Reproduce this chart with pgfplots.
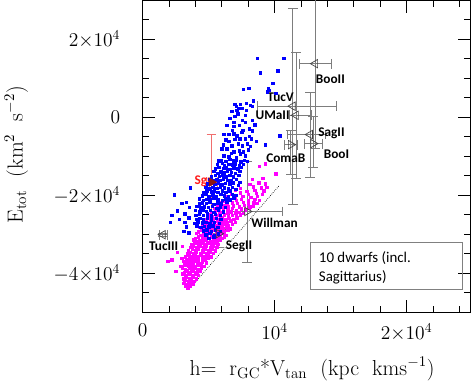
\documentclass[border=0pt]{standalone}
\usepackage{fontspec}
\usepackage{pgfplots}
\pgfplotsset{compat=1.18}
\newfontfamily\carlito{Carlito}
\definecolor{ptblue}{RGB}{0,0,255}
\definecolor{ptmag}{RGB}{255,0,255}
\definecolor{errgray}{RGB}{125,125,125}
\definecolor{sgrbar}{RGB}{240,110,110}
\definecolor{sgrmark}{RGB}{140,20,20}
\begin{document}
\begin{tikzpicture}
\begin{axis}[
  width=242pt, height=230pt, scale only axis,
  xmin=0, xmax=24.85, ymin=-50, ymax=30,
  xtick={0,10,20}, xticklabels={$0$,$10^4$,$2{\times}10^4$},
  ytick={-40,-20,0,20},
  yticklabels={$-4{\times}10^4$,$-2{\times}10^4$,$0$,$2{\times}10^4$},
  minor xtick={2,4,6,8,12,14,16,18,22,24},
  minor ytick={-45,-35,-30,-25,-15,-10,-5,5,10,15,25},
  tick align=inside, major tick length=9pt, minor tick length=4.5pt,
  every tick/.style={black, line width=0.6pt},
  axis line style={line width=0.6pt},
  tick label style={font=\fontsize{14.5}{16}\selectfont},
  xticklabel style={yshift=-5pt},
  yticklabel style={xshift=-13pt},
  label style={font=\fontsize{16}{18}\selectfont},
  xlabel={h=\ \ r$_{\mathrm{GC}}$*V$_{\mathrm{tan}}$\ \ (kpc\ \ kms$^{-1}$)},
  ylabel={E$_{\mathrm{tot}}$\ \ (km$^2$\ \ s$^{-2}$)},
  xlabel style={at={(axis description cs:0.517,-0.182)}, anchor=center},
  ylabel style={at={(axis description cs:-0.385,0.505)}, anchor=center},
]

% model particles, bound energy branch (magenta)
\addplot[only marks, mark=square*, mark size=0.9pt, color=ptmag] coordinates {
(3.22,-43.4) (3.41,-43.7) (3.57,-43.3)
(3.13,-42.6) (3.36,-43.0) (3.62,-42.7) (3.79,-42.9)
(3.21,-41.8) (3.47,-42.2) (3.68,-41.9) (3.93,-42.1)
(3.08,-41.4) (3.33,-41.0) (3.55,-41.3) (3.82,-41.1) (4.06,-41.4)
(3.04,-40.2) (3.27,-40.6) (3.49,-40.3) (3.77,-40.5) (4.01,-40.2) (4.22,-40.6)
(2.52,-39.5) (3.16,-39.8) (3.38,-39.4) (3.62,-39.7) (3.86,-39.5) (4.11,-39.8) (4.37,-39.4)
(3.01,-38.6) (3.24,-39.0) (3.52,-38.7) (3.71,-38.9) (3.96,-38.6) (4.19,-39.0) (4.46,-38.7)
(2.88,-38.2) (3.19,-37.8) (3.46,-38.1) (3.66,-37.9) (3.92,-38.2) (4.14,-37.8) (4.41,-38.0) (4.66,-38.2)
(3.09,-37.0) (3.36,-37.4) (3.58,-37.1) (3.81,-37.3) (4.04,-37.0) (4.31,-37.4) (4.54,-37.1) (4.81,-37.3)
(2.21,-36.5) (2.98,-36.2) (3.31,-36.6) (3.54,-36.3) (3.76,-36.5) (4.02,-36.2) (4.24,-36.6) (4.51,-36.3) (4.76,-36.5) (4.99,-36.2)
(3.24,-35.8) (3.51,-35.4) (3.69,-35.7) (3.96,-35.5) (4.19,-35.8) (4.46,-35.4) (4.71,-35.7) (4.94,-35.5) (5.16,-35.8)
(2.62,-34.7) (3.39,-35.0) (3.61,-34.6) (3.86,-34.9) (4.09,-34.6) (4.36,-35.0) (4.59,-34.7) (4.86,-34.9) (5.09,-34.6) (5.34,-34.9)
(3.48,-34.2) (3.76,-33.8) (4.01,-34.1) (4.24,-33.9) (4.51,-34.2) (4.74,-33.8) (5.01,-34.1) (5.24,-33.9) (5.51,-34.2)
(3.02,-33.1) (3.61,-33.4) (3.84,-33.0) (4.11,-33.3) (4.34,-33.0) (4.61,-33.4) (4.84,-33.1) (5.11,-33.3) (5.34,-33.0) (5.61,-33.3)
(3.71,-32.6) (3.94,-32.2) (4.21,-32.5) (4.44,-32.3) (4.71,-32.6) (4.94,-32.2) (5.21,-32.5) (5.44,-32.3) (5.71,-32.6)
(3.84,-31.4) (4.11,-31.8) (4.34,-31.5) (4.61,-31.7) (4.84,-31.4) (5.11,-31.8) (5.34,-31.5) (5.61,-31.7) (5.86,-31.4)
(4.01,-31.0) (4.24,-30.6) (4.51,-30.9) (4.74,-30.7) (5.01,-31.0) (5.24,-30.6) (5.51,-30.9) (5.74,-30.7) (6.01,-31.0) (6.21,-30.6)
(4.09,-29.8) (4.36,-30.2) (4.59,-29.9) (4.86,-30.1) (5.09,-29.8) (5.36,-30.2) (5.59,-29.9) (5.86,-30.1) (6.09,-29.8) (6.36,-30.2)
(4.21,-29.4) (4.44,-29.0) (4.71,-29.3) (4.94,-29.1) (5.21,-29.4) (5.44,-29.0) (5.71,-29.3) (5.94,-29.1) (6.21,-29.4) (6.46,-29.0)
(4.34,-28.2) (4.61,-28.6) (4.84,-28.3) (5.11,-28.5) (5.34,-28.2) (5.61,-28.6) (5.84,-28.3) (6.11,-28.5) (6.34,-28.2) (6.61,-28.6)
(4.51,-27.8) (4.74,-27.4) (5.01,-27.7) (5.24,-27.5) (5.51,-27.8) (5.74,-27.4) (6.01,-27.7) (6.24,-27.5) (6.51,-27.8) (6.79,-27.4)
(4.64,-26.6) (4.91,-27.0) (5.14,-26.7) (5.41,-26.9) (5.64,-26.6) (5.91,-27.0) (6.14,-26.7) (6.41,-26.9) (6.69,-26.6) (7.01,-27.0)
(4.81,-26.2) (5.04,-25.8) (5.31,-26.1) (5.54,-25.9) (5.81,-26.2) (6.04,-25.8) (6.31,-26.1) (6.59,-25.9) (6.91,-26.2) (7.19,-25.8)
(5.01,-25.0) (5.29,-25.4) (5.61,-25.1) (5.89,-25.3) (6.21,-25.0) (6.49,-25.4) (6.81,-25.1) (7.09,-25.3) (7.41,-25.0)
(5.21,-24.6) (5.49,-24.2) (5.81,-24.5) (6.09,-24.3) (6.41,-24.6) (6.69,-24.2) (7.01,-24.5) (7.29,-24.3) (7.64,-24.6)
(5.46,-23.4) (5.79,-23.8) (6.11,-23.5) (6.44,-23.7) (6.81,-23.4) (7.09,-23.8) (7.46,-23.5) (7.79,-23.7) (8.09,-23.4)
(5.71,-23.0) (6.09,-22.6) (6.51,-22.9) (6.89,-22.7) (7.31,-23.0) (7.69,-22.6) (8.11,-22.9) (8.39,-22.7)
(5.91,-21.8) (6.39,-22.2) (6.81,-21.9) (7.19,-22.1) (7.61,-21.8) (7.99,-22.2) (8.41,-21.9) (8.69,-22.1)
(6.09,-21.4) (6.61,-21.0) (7.11,-21.3) (7.49,-21.1) (8.01,-21.4) (8.49,-21.0) (8.86,-21.3)
(6.41,-20.2) (7.01,-20.6) (7.59,-20.3) (8.21,-20.5) (8.69,-20.2)
(6.71,-19.8) (7.41,-19.4) (7.99,-19.7) (8.61,-19.5) (9.09,-19.8)
(7.01,-18.6) (7.89,-19.0) (8.51,-18.7) (9.19,-18.9)
(7.41,-18.2) (8.39,-17.8) (8.99,-18.1) (9.41,-17.9)
(8.11,-17.2) (8.79,-16.8) (9.31,-17.1)
(8.31,-15.9) (9.11,-15.6)
(9.31,-11.9) (10.08,-14.5) (8.86,-12.6) (1.92,-36.9)
};

% model particles, upper branch (blue)
\addplot[only marks, mark=square*, mark size=0.9pt, color=ptblue] coordinates {
(8.69,15.1) (10.69,15.1) (8.92,11.4) (10.23,11.9) (9.85,8.8) (9.54,7.3)
(9.46,6.6) (10.08,6.2) (7.62,7.2) (8.05,7.5) (9.62,6.9)
(7.08,2.9) (7.30,2.3) (8.15,3.1)
(8.38,4.2) (7.85,3.6) (7.42,3.4) (7.00,3.3) (6.77,1.6) (7.15,1.8) (7.54,2.3)
(7.85,1.8) (8.31,2.9) (6.62,-0.3) (7.00,0.3) (7.54,-0.8) (7.77,0.5) (8.31,-0.8)
(6.38,-2.1) (6.92,-2.3) (7.31,-2.1) (7.77,-1.3) (8.08,-2.9) (8.31,-3.4)
(6.15,-4.4) (6.54,-4.4) (6.92,-4.2) (7.15,-4.7) (7.38,-5.5) (7.77,-5.5)
(8.08,-4.9) (8.23,-5.5) (6.54,-6.2) (6.77,-7.3) (7.23,-6.8) (7.54,-7.3)
(7.92,-6.8) (8.15,-7.5) (6.00,-8.1) (6.38,-8.1) (6.92,-8.8) (7.31,-8.6)
(7.62,-8.8) (7.77,-9.9) (6.15,-9.9) (6.54,-10.1) (5.77,-11.2)
(7.20,0.9) (6.90,-1.2) (7.60,-3.3) (7.00,-5.6) (6.30,-5.8) (8.00,-8.3)
(6.70,-9.2) (7.10,-10.3) (7.50,-3.9) (6.80,-3.3) (8.50,-1.9) (6.10,-7.0)
(7.40,-9.4) (8.60,-6.2) (9.31,-7.0) (10.38,-4.7)
(5.92,-11.0) (6.31,-11.3) (6.62,-10.8) (6.91,-11.2) (7.12,-10.9) (7.43,-11.4) (7.71,-11.0) (7.94,-11.3)
(5.68,-12.1) (6.02,-11.8) (6.21,-12.3) (6.52,-12.0) (6.79,-12.2) (7.03,-11.9) (7.32,-12.3) (7.61,-12.0)
(5.51,-13.2) (5.79,-12.8) (6.12,-13.1) (6.33,-12.9) (6.61,-13.3) (6.92,-12.9) (7.21,-13.2) (7.48,-12.8)
(5.41,-13.9) (5.69,-14.3) (5.92,-14.0) (6.19,-14.2) (6.42,-13.8) (6.71,-14.1) (7.02,-14.3) (7.38,-13.9)
(5.19,-15.2) (5.52,-14.8) (5.81,-15.1) (6.02,-14.9) (6.29,-15.3) (6.61,-14.9) (6.88,-15.2) (7.28,-14.9)
(5.08,-15.9) (5.39,-16.3) (5.62,-16.0) (5.88,-16.2) (6.12,-15.8) (6.41,-16.1) (6.69,-16.3) (7.09,-15.9) (7.35,-16.6)
(4.91,-17.1) (5.22,-16.8) (5.48,-17.2) (5.72,-16.9) (6.01,-17.3) (6.28,-16.9) (6.61,-17.1) (6.89,-16.8) (7.25,-17.5)
(3.62,-18.1) (4.79,-17.9) (5.08,-18.3) (5.31,-18.0) (5.62,-18.2) (5.88,-17.8) (6.21,-18.1) (6.49,-18.3) (6.78,-17.9) (7.05,-18.4)
(4.62,-19.2) (4.88,-18.8) (5.19,-19.1) (5.42,-18.9) (5.71,-19.3) (6.02,-18.9) (6.29,-19.2) (6.61,-18.8)
(2.42,-19.9) (4.51,-20.1) (4.79,-19.8) (5.02,-20.3) (5.31,-19.9) (5.58,-20.2) (5.91,-19.8) (6.19,-20.1) (6.48,-20.3) (6.79,-19.7) (7.05,-20.0)
(4.31,-20.9) (4.62,-21.3) (4.88,-21.0) (5.12,-21.2) (5.41,-20.8) (5.69,-21.1) (6.02,-21.3) (6.29,-20.9) (6.62,-21.2) (6.91,-20.6)
(2.98,-22.1) (3.31,-21.8) (4.29,-22.2) (4.52,-21.9) (4.81,-22.1) (5.08,-21.8) (5.39,-22.3) (5.71,-21.9) (5.98,-22.2) (6.38,-21.8)
(3.52,-23.1) (4.11,-22.8) (4.42,-23.2) (4.69,-22.9) (4.99,-23.1) (5.28,-22.8) (5.61,-23.3) (5.89,-22.9) (6.28,-23.1)
(2.61,-24.0) (3.99,-23.8) (4.32,-24.2) (4.58,-23.9) (4.81,-24.1) (5.12,-23.8) (5.39,-24.3) (5.72,-23.9) (6.11,-24.2)
(2.21,-25.1) (3.21,-24.8) (4.02,-25.2) (4.31,-24.9) (4.59,-25.1) (4.92,-24.8) (5.21,-25.3) (5.51,-24.9) (5.89,-25.2)
(2.79,-26.1) (3.49,-25.8) (4.08,-26.2) (4.32,-25.9) (4.61,-26.1) (4.89,-25.8) (5.19,-26.3) (5.58,-25.9) (5.92,-26.2)
(2.12,-27.0) (3.19,-26.9) (3.91,-27.2) (4.19,-26.8) (4.51,-27.1) (4.79,-26.9) (5.08,-27.3) (5.42,-26.9) (5.81,-27.2)
(3.31,-28.1) (4.12,-27.8) (4.41,-28.2) (4.69,-27.9) (5.01,-28.1) (5.31,-27.8) (5.69,-28.2)
(3.11,-29.3) (3.49,-29.6) (4.58,-29.1) (4.88,-28.8) (5.19,-29.2) (5.51,-28.9) (5.88,-29.3)
(4.78,-30.1) (5.09,-29.8) (5.42,-30.2) (5.72,-29.9)
(5.02,-31.0) (5.41,-30.7)
};

% lower envelope
\addplot[black, densely dotted, line width=0.5pt] coordinates {(3.92,-42.6) (10.38,-17.4)};

% dwarfs, left-pointing triangles
\addplot[only marks, mark=triangle, mark size=3.6pt,
  mark options={rotate=90, draw=black!75, fill=none, line width=0.5pt},
  error bars/.cd, x dir=both, x explicit, y dir=both, y explicit,
  error bar style={errgray, line width=0.6pt}] coordinates {
(13.08,13.77) +- (1.23,21.8)
(11.38,2.86) += (3.31,25.2) -= (2.69,25.2)
(11.62,0.52) += (1.15,16.1) -= (0.47,16.1)
(12.69,-4.42) += (1.15,10.9) -= (1.70,10.9)
(1.54,-30.13) +- (0.30,0.5)
};

% dwarfs, right-pointing triangles
\addplot[only marks, mark=triangle, mark size=3.6pt,
  mark options={rotate=-90, draw=black!75, fill=none, line width=0.5pt},
  error bars/.cd, x dir=both, x explicit, y dir=both, y explicit,
  error bar style={errgray, line width=0.6pt}] coordinates {
(11.23,-7.01) += (0.46,3.6) -= (0.46,7.5)
(12.92,-6.75) += (0.70,7.0) -= (0.70,6.0)
(7.92,-24.16) += (2.69,13.0) -= (1.38,13.0)
(5.77,-29.87) +- (0.50,3.6)
};

% Sagittarius
\addplot[only marks, mark=triangle*, mark size=3.6pt,
  mark options={rotate=-90, draw=sgrmark, fill=sgrmark},
  error bars/.cd, x dir=both, x explicit, y dir=both, y explicit,
  error bar style={sgrbar, line width=0.6pt}] coordinates {
(5.23,-16.62) +- (0.40,12.2)
};

\begin{scope}[font=\carlito\bfseries\fontsize{9.8}{11}\selectfont]
\node at (axis cs:14.23,9.87) {BooII};
\node at (axis cs:10.46,5.2) {TucV};
\node at (axis cs:9.85,0.5) {UMaII};
\node at (axis cs:14.31,-4.16) {SagII};
\node at (axis cs:14.69,-9.35) {BooI};
\node at (axis cs:10.85,-10.39) {ComaB};
\node[text=red!90] at (axis cs:4.6,-16.4) {Sgr};
\node at (axis cs:10.0,-27.0) {Willman};
\node at (axis cs:7.31,-33.0) {SegII};
\node at (axis cs:1.6,-33.2) {TucIII};
\end{scope}

\draw[black!50, line width=0.5pt] (axis cs:12.69,-32.2) rectangle (axis cs:24.23,-44.16);
\node[anchor=west, font=\carlito\fontsize{11}{13}\selectfont] at (axis cs:13.0,-36.1) {10 dwarfs (incl.};
\node[anchor=west, font=\carlito\fontsize{11}{13}\selectfont] at (axis cs:13.0,-41.0) {Sagittarius)};
\end{axis}
\end{tikzpicture}
\end{document}
